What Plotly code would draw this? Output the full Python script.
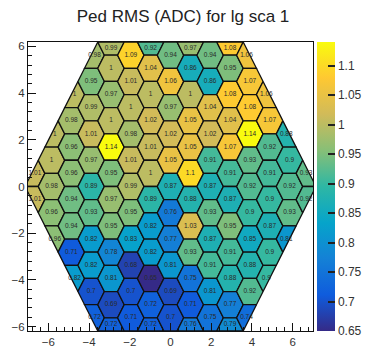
import numpy as np
import plotly.graph_objects as go

# ---- pedestal RMS (ADC) per cell, one list per sensor column, top to bottom ----
rms_col_m7 = [1.01, 1.01]
rms_col_m6 = [1.00, 1.00, 0.98, 0.96, 0.96]
rms_col_m5 = [1.00, 0.98, 0.96, 0.96, 0.94, 0.94, 0.71, 0.82]
rms_col_m4 = [0.98, 0.95, 0.99, 1.01, 0.97, 0.89, 0.93, 0.82, 0.82, 0.70, 0.72]
rms_col_m3 = [0.99, 1.00, 0.97, 1.00, 1.14, 0.95, 0.97, 0.95, 0.78, 0.81, 0.69, 0.72]
rms_col_m2 = [1.09, 1.01, 1.00, 0.98, 1.01, 0.99, 0.95, 0.83, 0.68, 0.70, 0.71]
rms_col_m1 = [0.92, 1.04, 1.00, 1.02, 1.01, 1.00, 0.89, 0.82, 0.82, 0.65, 0.72, 0.72]
rms_col_0 = [0.94, 1.06, 0.97, 1.02, 1.05, 0.87, 0.76, 0.77, 0.81, 0.69, 0.70]
rms_col_p1 = [0.97, 0.86, 1.00, 1.05, 1.05, 1.10, 0.88, 1.03, 0.93, 0.75, 0.71, 0.76]
rms_col_p2 = [0.94, 0.86, 1.04, 1.02, 0.91, 0.87, 0.93, 0.87, 0.91, 0.81, 0.75]
rms_col_p3 = [1.08, 0.95, 1.08, 1.04, 1.07, 0.91, 0.87, 0.95, 0.91, 0.88, 0.77, 0.79]
rms_col_p4 = [1.06, 1.07, 1.08, 1.14, 0.93, 0.92, 0.90, 0.85, 0.88, 0.92, 0.74]
rms_col_p5 = [1.06, 1.07, 0.92, 0.91, 0.90, 0.87, 0.90, 0.90]
rms_col_p6 = [0.88, 0.90, 0.92, 0.93, 0.81]
rms_col_p7 = [0.93, 0.92]

column_index = list(range(-7, 8))
column_values = [rms_col_m7, rms_col_m6, rms_col_m5, rms_col_m4, rms_col_m3,
                 rms_col_m2, rms_col_m1, rms_col_0, rms_col_p1, rms_col_p2,
                 rms_col_p3, rms_col_p4, rms_col_p5, rms_col_p6, rms_col_p7]

title_text = "Ped RMS (ADC) for lg sca 1"
axis_ticks = [-6, -4, -2, 0, 2, 4, 6]
cbar_ticks = [0.65, 0.70, 0.75, 0.80, 0.85, 0.90, 0.95, 1.00, 1.05, 1.10]

# ---- geometry: flat-top hexagonal cells inside a flat-top hexagonal sensor ----
CELL_R = 0.6496
SENSOR_R = 11 * CELL_R
ROW_H = np.sqrt(3) * CELL_R
COL_W = 1.5 * CELL_R


def hexagon(cx, cy, r):
    ang = np.deg2rad(np.arange(0, 360, 60))
    return [(cx + r * np.cos(a), cy + r * np.sin(a)) for a in ang]


SENSOR = hexagon(0.0, 0.0, SENSOR_R)


def clip(poly, boundary, eps=1e-9):
    out = poly
    n = len(boundary)
    for i in range(n):
        ax, ay = boundary[i]
        bx, by = boundary[(i + 1) % n]

        def side(p):
            return (bx - ax) * (p[1] - ay) - (by - ay) * (p[0] - ax)

        src, out = out, []
        if not src:
            break
        for j in range(len(src)):
            p, q = src[j], src[(j + 1) % len(src)]
            sp, sq = side(p), side(q)
            if sp >= -eps:
                out.append(p)
            if (sp >= -eps) != (sq >= -eps):
                t = sp / (sp - sq)
                out.append((p[0] + t * (q[0] - p[0]), p[1] + t * (q[1] - p[1])))
    cleaned = []
    for p in out:
        if not cleaned or abs(p[0] - cleaned[-1][0]) + abs(p[1] - cleaned[-1][1]) > 1e-7:
            cleaned.append(p)
    if len(cleaned) > 1 and abs(cleaned[0][0] - cleaned[-1][0]) + abs(cleaned[0][1] - cleaned[-1][1]) < 1e-7:
        cleaned.pop()
    return cleaned


# ---- ROOT kBird palette ----
bird_stops = [0.0, 0.125, 0.25, 0.375, 0.5, 0.625, 0.75, 0.875, 1.0]
bird_r = [0.2082, 0.0592, 0.0780, 0.0232, 0.1802, 0.5301, 0.8186, 0.9956, 0.9764]
bird_g = [0.1664, 0.3599, 0.5041, 0.6419, 0.7178, 0.7492, 0.7328, 0.7862, 0.9832]
bird_b = [0.5293, 0.8684, 0.8385, 0.7914, 0.6425, 0.4662, 0.3499, 0.1968, 0.0539]
bird_scale = [[s, "rgb(%d,%d,%d)" % (round(r * 255), round(g * 255), round(b * 255))]
              for s, r, g, b in zip(bird_stops, bird_r, bird_g, bird_b)]

all_vals = [v for col in column_values for v in col]
zmin, zmax = min(all_vals), max(all_vals)


def bird(v):
    t = (v - zmin) / (zmax - zmin)
    r = np.interp(t, bird_stops, bird_r)
    g = np.interp(t, bird_stops, bird_g)
    b = np.interp(t, bird_stops, bird_b)
    return "rgb(%d,%d,%d)" % (round(r * 255), round(g * 255), round(b * 255))


fig = go.Figure()
lab_x, lab_y, lab_t = [], [], []

for k, vals in zip(column_index, column_values):
    cx = k * COL_W
    n_cells = len(vals)
    # cell centres of this column, centred on y = 0, listed top to bottom
    for i, v in enumerate(vals):
        cy = ((n_cells - 1) / 2.0 - i) * ROW_H
        poly = clip(hexagon(cx, cy, CELL_R), SENSOR)
        xs = [p[0] for p in poly] + [poly[0][0]]
        ys = [p[1] for p in poly] + [poly[0][1]]
        fig.add_trace(go.Scatter(
            x=xs, y=ys, mode="lines", fill="toself", fillcolor=bird(v),
            line=dict(color="#111111", width=1.3),
            hoverinfo="skip", showlegend=False))
        lab_x.append((min(xs) + max(xs)) / 2)
        lab_y.append((min(ys) + max(ys)) / 2)
        lab_t.append("%g" % v)

fig.add_trace(go.Scatter(
    x=lab_x, y=lab_y, text=lab_t, mode="text",
    textfont=dict(family="Liberation Sans, Arial, sans-serif", size=6.5, color="#2a2a2a"),
    hoverinfo="skip", showlegend=False))

# colour bar carrier
fig.add_trace(go.Scatter(
    x=[0, 0], y=[0, 0], mode="markers", hoverinfo="skip", showlegend=False,
    marker=dict(size=1, opacity=0, color=[zmin, zmax], cmin=zmin, cmax=zmax,
                colorscale=bird_scale, showscale=True,
                colorbar=dict(x=1.014, xanchor="left", xpad=0, ypad=0,
                              y=0.5, yanchor="middle", len=1, lenmode="fraction",
                              thickness=18, thicknessmode="pixels", outlinewidth=0,
                              tickvals=cbar_ticks, ticktext=["%g" % t for t in cbar_ticks],
                              ticks="inside", ticklen=7, tickcolor="#222", tickwidth=1.5,
                              tickfont=dict(family="Liberation Sans, Arial, sans-serif",
                                            size=12, color="#333")))))

axis_common = dict(
    showgrid=False, zeroline=False, showline=True, mirror=True,
    linecolor="#111", linewidth=1, automargin=False,
    ticks="inside", ticklen=8, tickwidth=1, tickcolor="#111",
    tickvals=axis_ticks,
    tickfont=dict(family="Liberation Sans, Arial, sans-serif", size=11.5, color="#333"),
    minor=dict(ticks="inside", ticklen=4, tickcolor="#111", dtick=0.4, tick0=-6),
)

fig.update_layout(
    width=366, height=347,
    margin=dict(l=28, r=53, t=42, b=16, autoexpand=False),
    paper_bgcolor="white", plot_bgcolor="white",
    title=dict(text=title_text, x=0.5, xanchor="center", y=1 - 16 / 347, yanchor="middle",
               yref="container",
               font=dict(family="Liberation Sans, Arial, sans-serif", size=17, color="#222")),
    xaxis=dict(range=[-7.0, 7.0], **axis_common),
    yaxis=dict(range=[-6.19, 6.19], **axis_common),
)

fig.write_html("out.html")
